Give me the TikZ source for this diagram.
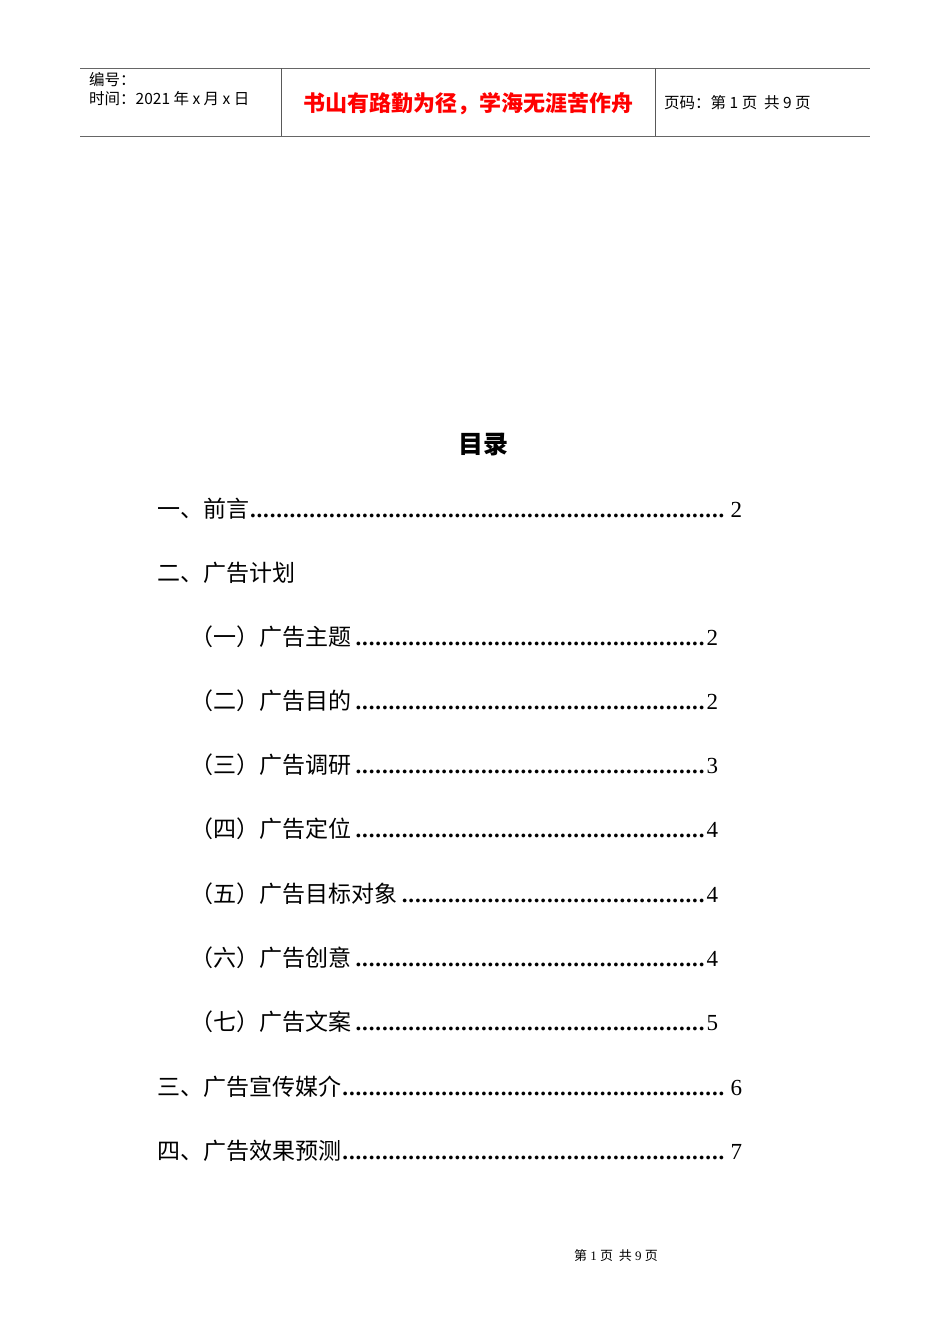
\documentclass[tikz,border=0pt]{standalone}
\usepackage{fontspec}
\setmainfont{Liberation Serif}
\newfontfamily\cjk{Noto Sans CJK SC}
\newfontfamily\cjks{Noto Sans CJK SC}
\newcommand{\mydots}{\leaders\hbox to 6.6pt{\hss\textbf{.}\hss}\hfill}
\begin{document}
\begin{tikzpicture}[x=1pt,y=-1pt,
  hdr/.style={anchor=west,inner sep=0pt,font=\cjks\fontsize{15.5}{17}\selectfont},
  toc/.style={anchor=west,inner sep=0pt,font=\fontsize{23}{25}\selectfont},
  rule/.style={draw=gray!80!black,line width=1pt}]
\useasboundingbox (0,0) rectangle (950,1344);
\draw[rule] (80,68) -- (870,68);
\draw[rule] (80,136) -- (870,136);
\draw[gray!70!black,line width=0.8pt] (281,68) -- (281,136);
\draw[gray!70!black,line width=0.8pt] (655,68) -- (655,136);
\node[hdr] (no) at (89,80) {编号：};
\node[hdr] (time) at (89,99) {时间：2021 年 x 月 x 日};
\node[anchor=center,inner sep=0pt,text=red,font=\cjks\bfseries\fontsize{22}{24}\selectfont] (motto) at (468,104) {书山有路勤为径，学海无涯苦作舟};
\node[hdr] (pg) at (664,103) {页码：第 1 页 \ 共 9 页};
\node[inner sep=0pt,font=\cjk\bfseries\fontsize{25}{27}\selectfont] (title) at (483,445) {目录};
\newcommand{\tocline}[5]{\node[toc,text width=#3] (#1) at (#2) {{\cjk #4}\mydots #5};}
\tocline{a}{157,509}{585pt}{一、前言}{2}
\node[toc] (b) at (157,573) {\cjk 二、广告计划};
\tocline{c}{190,637}{528pt}{（一）广告主题}{2}
\tocline{d}{190,701}{528pt}{（二）广告目的}{2}
\tocline{e}{190,765}{528pt}{（三）广告调研}{3}
\tocline{f}{190,829}{528pt}{（四）广告定位}{4}
\tocline{g}{190,894}{528pt}{（五）广告目标对象}{4}
\tocline{h}{190,958}{528pt}{（六）广告创意}{4}
\tocline{i}{190,1022}{528pt}{（七）广告文案}{5}
\tocline{j}{157,1087}{585pt}{三、广告宣传媒介}{6}
\tocline{k}{157,1151}{585pt}{四、广告效果预测}{7}
\node[inner sep=0pt,font=\fontsize{13}{15}\selectfont] (foot) at (616,1256) {{\cjk 第} 1 {\cjk 页 \ 共} 9 {\cjk 页}};
\end{tikzpicture}
\end{document}
